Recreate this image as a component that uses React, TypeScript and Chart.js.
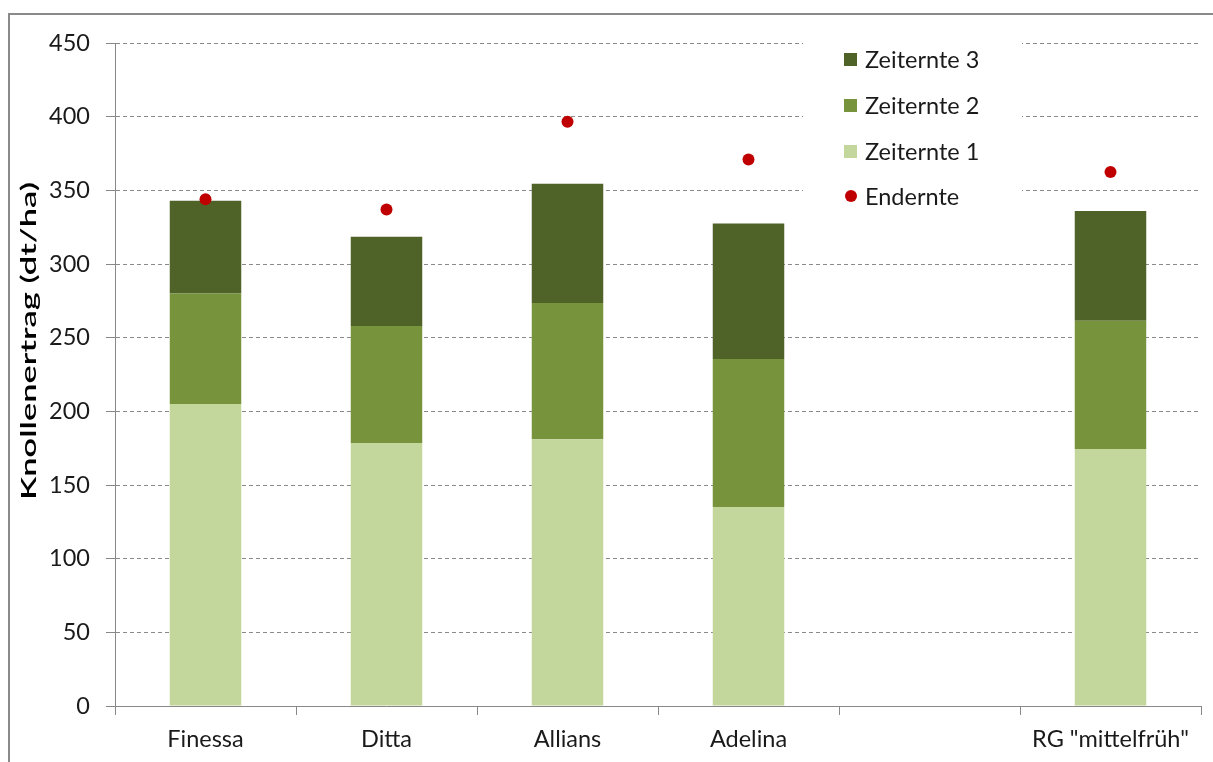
import React, { useEffect, useRef } from "react";
import { Chart, registerables } from "chart.js";

Chart.register(...registerables);

const categories = ["Finessa", "Ditta", "Allians", "Adelina", "", 'RG "mittelfrüh"'];
const zeiternte1 = [205, 178.5, 181, 135, null, 174.5];
const zeiternte2 = [75, 79.5, 92.5, 100.5, null, 87];
const zeiternte3 = [63, 60.5, 81, 92, null, 74.5];
const endernte = [344, 337, 396.5, 371, null, 362.5];
const yTicks = [0, 50, 100, 150, 200, 250, 300, 350, 400, 450];
const yTitle = "Knollenertrag (dt/ha)";

const C1 = "#C3D69B";
const C2 = "#77933C";
const C3 = "#4F6228";
const CR = "#C00000";
const FONT = "Lato, 'Liberation Sans', sans-serif";
const FS = 23.5;

const legendPlugin = {
  id: "boxLegend",
  afterDatasetsDraw(chart: any) {
    const ctx = chart.ctx;
    ctx.save();
    ctx.fillStyle = "#ffffff";
    ctx.fillRect(803, 38, 219, 176);
    const items = [
      { label: "Zeiternte 3", color: C3, type: "box" },
      { label: "Zeiternte 2", color: C2, type: "box" },
      { label: "Zeiternte 1", color: C1, type: "box" },
      { label: "Endernte", color: CR, type: "dot" },
    ];
    const ys = [59, 105, 151, 196];
    ctx.font = `${FS}px ${FONT}`;
    ctx.textBaseline = "middle";
    ctx.textAlign = "left";
    items.forEach((it, i) => {
      const y = ys[i];
      ctx.fillStyle = it.color;
      if (it.type === "box") {
        ctx.fillRect(844, y - 6, 13, 13);
      } else {
        ctx.beginPath();
        ctx.arc(851, y, 6, 0, Math.PI * 2);
        ctx.fill();
      }
      ctx.fillStyle = "#1a1a1a";
      ctx.fillText(it.label, 865, y + 1);
    });
    ctx.restore();

    // y-axis title (stretched along its length like the reference)
    ctx.save();
    ctx.font = `600 21px ${FONT}`;
    ctx.fillStyle = "#000000";
    ctx.textAlign = "center";
    ctx.textBaseline = "middle";
    const w = ctx.measureText(yTitle).width;
    const target = 318;
    ctx.translate(29, 341);
    ctx.rotate(-Math.PI / 2);
    ctx.scale(target / w, 1);
    ctx.fillText(yTitle, 0, 0);
    ctx.restore();
  },
};

export default function App() {
  const ref = useRef<HTMLCanvasElement | null>(null);
  useEffect(() => {
    if (!ref.current) return;
    const chart = new Chart(ref.current, {
      type: "bar",
      data: {
        labels: categories,
        datasets: [
          {
            type: "line",
            label: "Endernte",
            data: endernte as any,
            showLine: false,
            pointRadius: 6,
            pointHoverRadius: 6,
            pointBackgroundColor: CR,
            pointBorderColor: CR,
            pointBorderWidth: 0,
            backgroundColor: CR,
            borderColor: CR,
            stack: "e",
            order: 0,
          } as any,
          {
            label: "Zeiternte 1",
            data: zeiternte1 as any,
            backgroundColor: C1,
            stack: "a",
            order: 1,
            barPercentage: 0.395,
            categoryPercentage: 1,
          },
          {
            label: "Zeiternte 2",
            data: zeiternte2 as any,
            backgroundColor: C2,
            stack: "a",
            order: 1,
            barPercentage: 0.395,
            categoryPercentage: 1,
          },
          {
            label: "Zeiternte 3",
            data: zeiternte3 as any,
            backgroundColor: C3,
            stack: "a",
            order: 1,
            barPercentage: 0.395,
            categoryPercentage: 1,
          },
        ],
      },
      options: {
        animation: false,
        responsive: false,
        maintainAspectRatio: false,
        layout: { padding: { top: 43, right: 12, left: 0, bottom: 0 } },
        plugins: {
          legend: { display: false },
          tooltip: { enabled: false },
        },
        scales: {
          x: {
            stacked: true,
            offset: true,
            grid: {
              offset: true,
              drawOnChartArea: false,
              drawTicks: true,
              tickLength: 9,
              color: "#888888",
            },
            border: { color: "#888888", width: 1 },
            ticks: {
              color: "#1a1a1a",
              font: { family: FONT, size: FS },
              padding: 10,
              maxRotation: 0,
              autoSkip: false,
            },
            afterFit: (s: any) => {
              s.height = 56;
            },
          },
          y: {
            stacked: true,
            min: 0,
            max: 450,
            afterBuildTicks: (s: any) => {
              s.ticks = yTicks.map((v) => ({ value: v }));
            },
            grid: {
              color: "#8a8a8a",
              tickLength: 9,
              tickColor: "#888888",
              tickBorderDash: [],
            } as any,
            border: { color: "#888888", width: 1, dash: [4, 3] } as any,
            ticks: {
              color: "#1a1a1a",
              font: { family: FONT, size: FS },
              padding: 16,
            },
            afterFit: (s: any) => {
              s.width = 115;
            },
          },
        },
      },
      plugins: [legendPlugin],
    });
    return () => chart.destroy();
  }, []);

  return (
    <div>
      <div
        style={{
          position: "fixed",
          left: 8,
          top: 13,
          width: 1400,
          height: 1000,
          borderLeft: "2px solid #8a8a8a",
          borderTop: "2px solid #8a8a8a",
          boxSizing: "border-box",
        }}
      />
      <canvas
        ref={ref}
        width={1213}
        height={762}
        style={{ position: "fixed", left: 0, top: 0, width: 1213, height: 762 }}
      />
    </div>
  );
}
